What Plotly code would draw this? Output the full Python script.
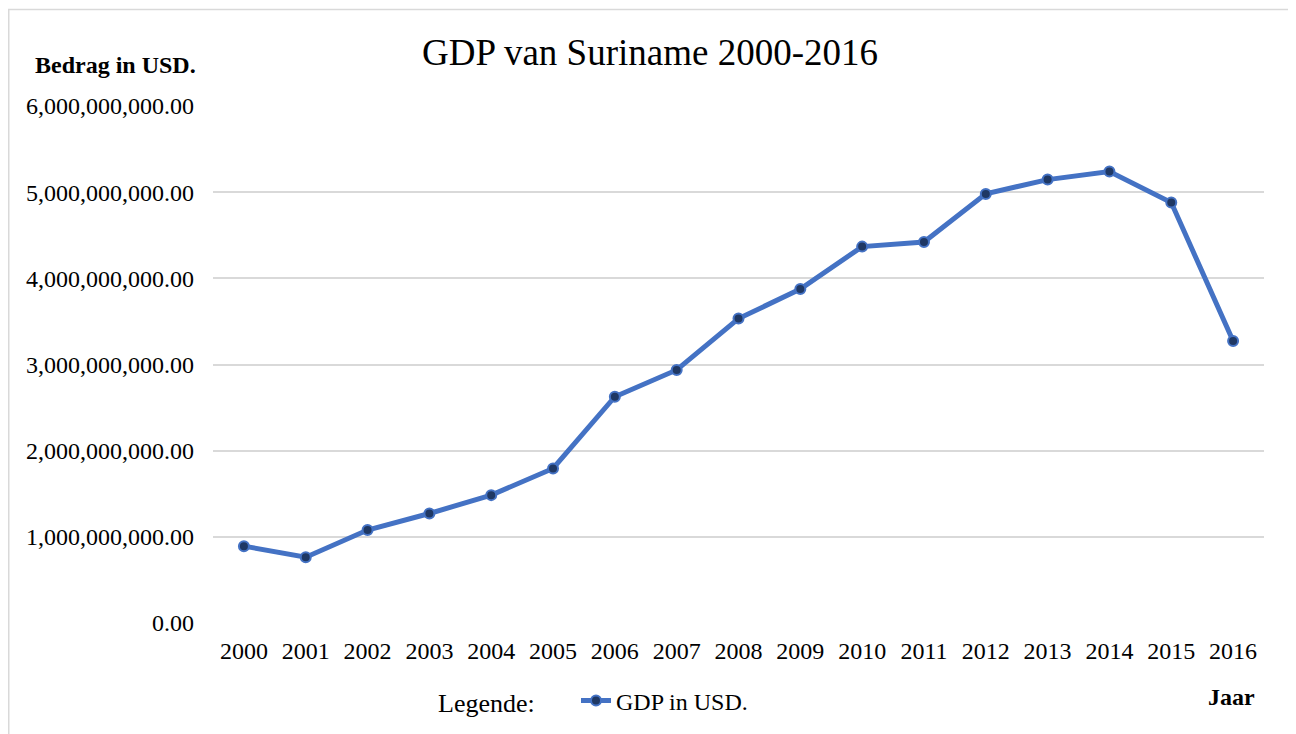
import plotly.graph_objects as go

# GDP Suriname
years = ["2000", "2001", "2002", "2003", "2004", "2005", "2006", "2007", "2008",
         "2009", "2010", "2011", "2012", "2013", "2014", "2015", "2016"]
gdp_usd = [892e6, 763e6, 1079e6, 1271e6, 1484e6, 1794e6, 2626e6, 2937e6, 3533e6,
           3875e6, 4368e6, 4422e6, 4980e6, 5146e6, 5240e6, 4879e6, 3273e6]

y_ticks = [0, 1e9, 2e9, 3e9, 4e9, 5e9, 6e9]

FONT = "Liberation Serif, Times New Roman, serif"
W, H = 1296, 734
# the page body adds an 8px offset, so positions are in figure pixels
L, R, T, B = 205, 40, 98, 119
pw, ph = W - L - R, H - T - B


def px_x(x):
    return (x - L) / pw


def px_y(y):
    return (H - B - y) / ph


fig = go.Figure()

fig.add_trace(go.Scatter(
    x=years, y=gdp_usd, name="GDP in USD.",
    mode="lines+markers",
    line=dict(color="#4472C4", width=5),
    marker=dict(size=10, color="#1F3864", line=dict(color="#4472C4", width=2)),
))

# outer chart border (bottom edge lies below the visible window)
fig.add_shape(type="rect", xref="paper", yref="paper",
              x0=px_x(0.75), x1=px_x(1285), y0=px_y(800), y1=px_y(1.5),
              line=dict(color="#D9D9D9", width=1.5), layer="below")

fig.add_annotation(text="<b>Bedrag in USD.</b>", xref="paper", yref="paper",
                   x=px_x(107), y=px_y(57), xanchor="center", yanchor="middle",
                   showarrow=False, font=dict(family=FONT, size=24, color="black"))
fig.add_annotation(text="<b>Jaar</b>", xref="paper", yref="paper",
                   x=px_x(1249), y=px_y(689), xanchor="right", yanchor="middle",
                   showarrow=False, font=dict(family=FONT, size=24, color="black"))
fig.add_annotation(text="Legende:", xref="paper", yref="paper",
                   x=px_x(478), y=px_y(695), xanchor="center", yanchor="middle",
                   showarrow=False, font=dict(family=FONT, size=26, color="black"))

fig.update_layout(
    width=W, height=H,
    margin=dict(l=L, r=R, t=T, b=B),
    paper_bgcolor="white", plot_bgcolor="white",
    font=dict(family=FONT, size=24, color="black"),
    title=dict(text="GDP van Suriname 2000-2016", xref="container", x=642 / W,
               xanchor="center", yref="container", y=1 - 44 / H, yanchor="middle",
               font=dict(family=FONT, size=37, color="black")),
    showlegend=True,
    legend=dict(orientation="h", xref="container", yref="container",
                x=568 / W, xanchor="left", y=1 - 693 / H, yanchor="middle",
                font=dict(family=FONT, size=24, color="black"),
                bgcolor="rgba(0,0,0,0)"),
    xaxis=dict(type="category", range=[-0.5, len(years) - 0.5],
               showgrid=False, zeroline=False, showline=False,
               ticks="", ticklabelstandoff=11, automargin=False,
               tickfont=dict(family=FONT, size=24, color="black")),
    yaxis=dict(range=[0, 6e9], tickvals=y_ticks, tickformat=",.2f",
               showgrid=True, gridcolor="#D9D9D9", gridwidth=1.5,
               zeroline=False, showline=False, ticks="", ticklabelstandoff=18,
               automargin=False,
               tickfont=dict(family=FONT, size=24, color="black")),
)

fig.write_html("out.html")
